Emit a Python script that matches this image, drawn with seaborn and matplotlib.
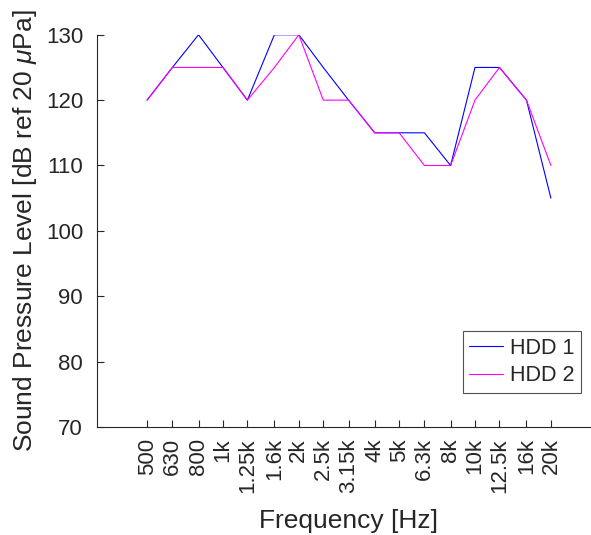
import numpy as np
import pandas as pd
import matplotlib
matplotlib.use('Agg')
import matplotlib.pyplot as plt
import seaborn as sns

# 1/3 octave band centre frequencies and labels
freqs = [500, 630, 800, 1000, 1250, 1600, 2000, 2500, 3150, 4000,
         5000, 6300, 8000, 10000, 12500, 16000, 20000]
freq_labels = ['500', '630', '800', '1k', '1.25k', '1.6k', '2k', '2.5k', '3.15k',
               '4k', '5k', '6.3k', '8k', '10k', '12.5k', '16k', '20k']

# SPL values (dB)
hdd1 = [120, 125, 130, 125, 120, 130, 130, 125, 120, 115, 115, 115, 110, 125, 125, 120, 105]
hdd2 = [120, 125, 125, 125, 120, 125, 130, 120, 120, 115, 115, 110, 110, 120, 125, 120, 110]

df = pd.DataFrame({
    'freq': freqs * 2,
    'spl': hdd1 + hdd2,
    'drive': ['HDD 1'] * len(freqs) + ['HDD 2'] * len(freqs),
})

sns.set_style('ticks')
plt.rcParams['font.family'] = ['Liberation Sans', 'DejaVu Sans']
plt.rcParams['mathtext.fontset'] = 'custom'
plt.rcParams['mathtext.it'] = 'Liberation Sans:italic'
plt.rcParams['mathtext.rm'] = 'Liberation Sans'

txt = '#262626'
fig = plt.figure(figsize=(5.91, 5.35), dpi=100)
ax = fig.add_axes([0.164, 0.202, 0.853, 0.733])

sns.lineplot(data=df, x='freq', y='spl', hue='drive',
             palette=['#0000ff', '#ff00ff'], linewidth=0.8, ax=ax)

ax.set_xscale('log')
ax.set_xlim(10**2.5, 10**4.5)
ax.set_ylim(70, 130)
ax.set_xticks(freqs)
ax.set_xticklabels(freq_labels, rotation=90)
ax.xaxis.set_minor_locator(matplotlib.ticker.NullLocator())
ax.set_yticks(np.arange(70, 131, 10))

ax.tick_params(direction='in', length=5, width=0.8, colors=txt, labelsize=16)
ax.tick_params(axis='x', pad=8)
ax.tick_params(axis='y', pad=10)
for s in ['left', 'bottom']:
    ax.spines[s].set_color(txt)
    ax.spines[s].set_linewidth(0.8)
sns.despine(ax=ax)

ax.set_xlabel('Frequency [Hz]', fontsize=19, color=txt, labelpad=12)
ax.set_ylabel(r'Sound Pressure Level [dB ref 20 $\mu$Pa]', fontsize=19, color=txt, labelpad=5)

leg = ax.legend(loc='lower right', bbox_to_anchor=(0.960, 0.087), fontsize=15.5,
                frameon=True, fancybox=False, handlelength=1.6, handletextpad=0.3,
                borderaxespad=0, borderpad=0.3, labelspacing=0.3)
leg.get_frame().set_edgecolor(txt)
leg.get_frame().set_linewidth(0.8)
for t in leg.get_texts():
    t.set_color(txt)

fig.savefig('out.png', dpi=100)
